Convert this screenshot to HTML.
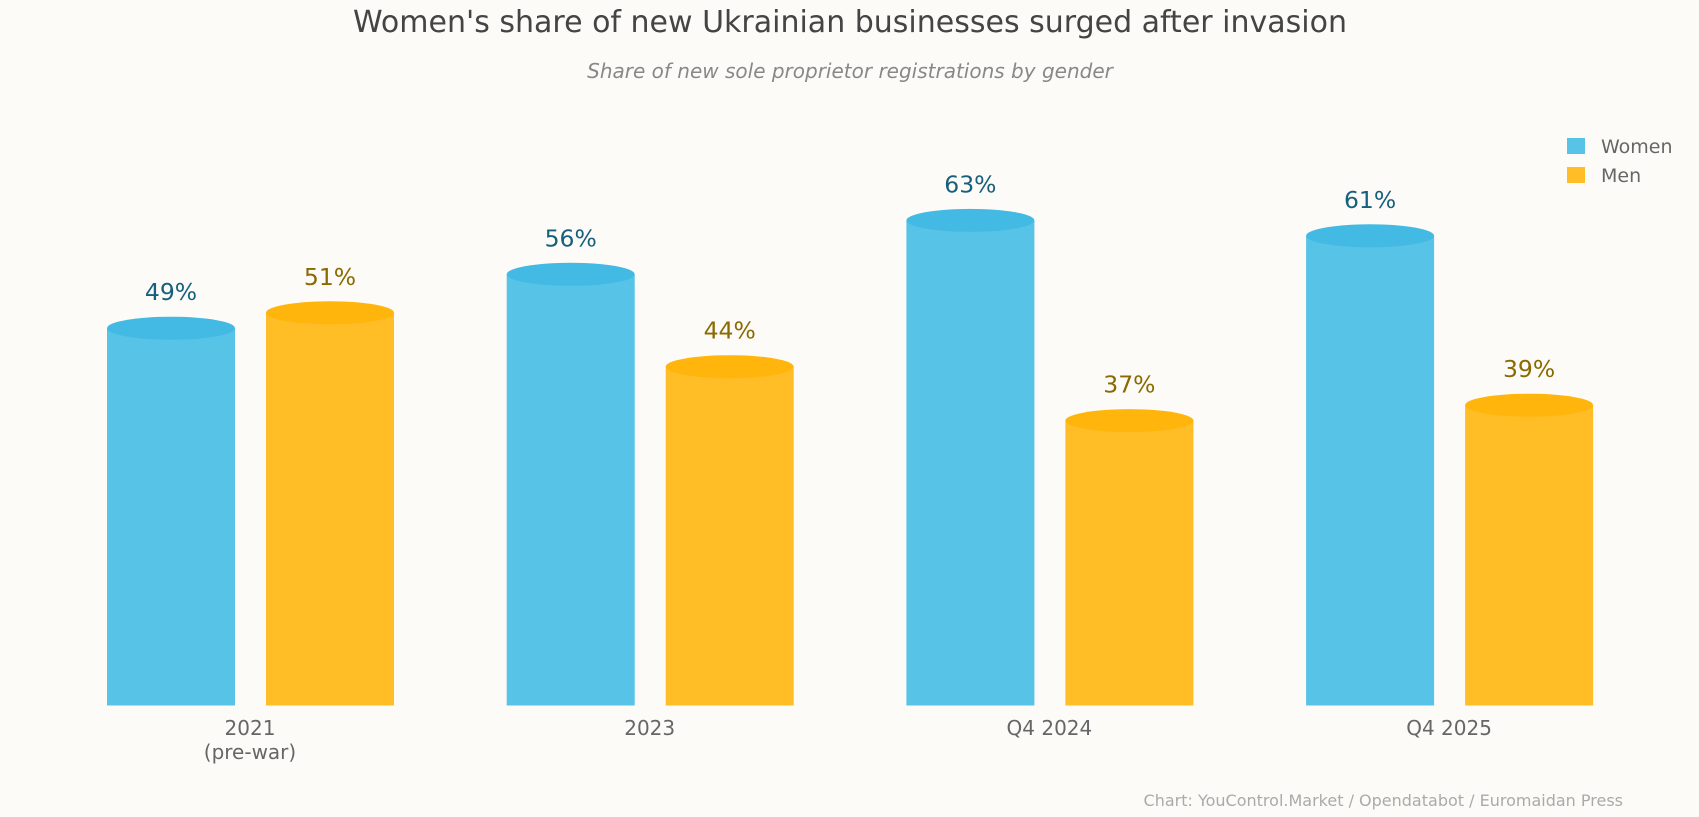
<!DOCTYPE html>
<html><head><meta charset="utf-8"><style>
html,body{margin:0;padding:0;background:#fcfbf7;}
svg{display:block;font-family:"DejaVu Sans","Liberation Sans",sans-serif;}
</style></head><body>
<svg id="chart" width="1699" height="817" viewBox="0 0 1699 817">
<rect width="1699" height="817" fill="#fcfbf7"/>
<text x="850" y="32" text-anchor="middle" font-size="30" fill="#444">Women's share of new Ukrainian businesses surged after invasion</text>
<text x="850" y="78" text-anchor="middle" font-size="20" font-style="italic" fill="#888">Share of new sole proprietor registrations by gender</text>
<g>
<rect x="1567" y="138" width="18" height="16" fill="#57c3e7"/>
<text x="1601" y="153" font-size="19" fill="#666">Women</text>
<rect x="1567" y="167" width="18" height="16" fill="#ffbe26"/>
<text x="1601" y="182" font-size="19" fill="#666">Men</text>
</g>
<g id="bars"></g>
<text x="1623" y="806" text-anchor="end" font-size="16" fill="#aaa">Chart: YouControl.Market / Opendatabot / Euromaidan Press</text>
</svg>
<script>
const categories = ["2021", "2023", "Q4 2024", "Q4 2025"];
const subLabels = ["(pre-war)", "", "", ""];
const women = [49, 56, 63, 61];
const men = [51, 44, 37, 39];

const NS = "http://www.w3.org/2000/svg";
const g = document.getElementById("bars");
const y = v => 705.5 - v * 7.7;
const xc = i => 250 + i * 399.7;
function mk(tag, attrs) { const e = document.createElementNS(NS, tag); for (const k in attrs) e.setAttribute(k, attrs[k]); g.appendChild(e); return e; }

function bar(cx, v, fill, top, labelCol, name) {
  const w = 128, yt = y(v);
  const r = mk("rect", {x: cx - w / 2, y: yt, width: w, height: 705.5 - yt, fill: fill});
  
  
  const e = mk("ellipse", {cx: cx, cy: yt, rx: w / 2, ry: 11.5, fill: top});
  
  
  const t = mk("text", {x: cx, y: yt - 28, "text-anchor": "middle", "font-size": 23.5, fill: labelCol});
  t.textContent = v + "%";
  
  
}

categories.forEach((c, i) => {
  const cx = xc(i);
  bar(cx - 79, women[i], "#57c3e7", "#43bae4", "#17607d", "bar-women-" + i);
  bar(cx + 80, men[i], "#ffbe26", "#ffb50b", "#8a6a00", "bar-men-" + i);
  const t = mk("text", {x: cx, y: 735, "text-anchor": "middle", "font-size": 20, fill: "#666"});
  t.textContent = c;
  
  
  if (subLabels[i]) {
    const s = mk("text", {x: cx, y: 759, "text-anchor": "middle", "font-size": 20, fill: "#666"});
    s.textContent = subLabels[i];
    
    
  }
});
</script>
</body></html>
